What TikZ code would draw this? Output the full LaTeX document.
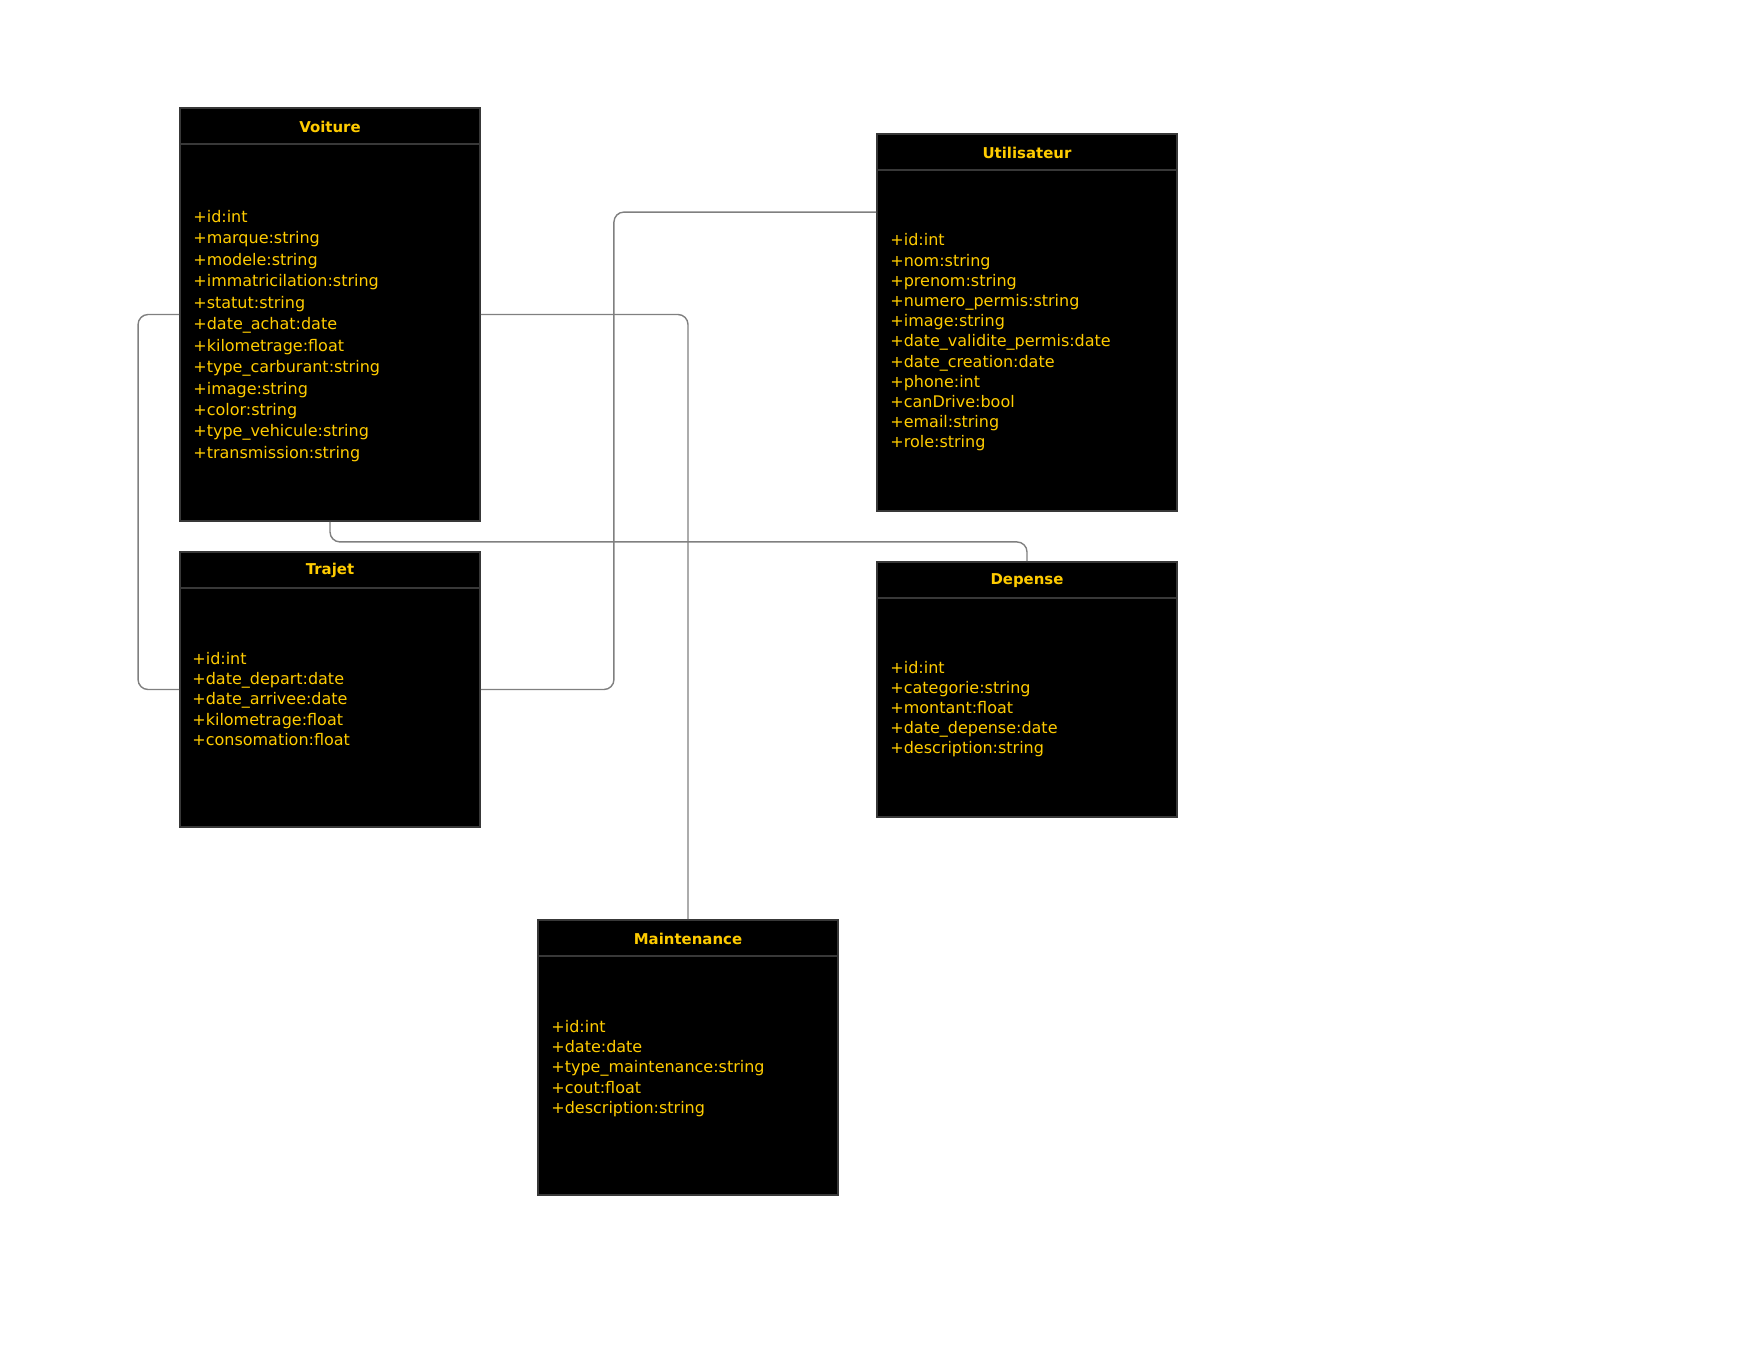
\documentclass[tikz,border=0pt]{standalone}
\usepackage{fontspec}
\setmainfont{DejaVu Sans}
\definecolor{attrgold}{HTML}{FFCC00}
\definecolor{boxline}{HTML}{383838}
\definecolor{wire}{HTML}{808080}
\tikzset{
  classbox/.style={draw=boxline, line width=1.1pt, fill=black, minimum width=6cm, inner sep=0pt},
  classtitle/.style={text=attrgold, font=\fontsize{8.5}{10}\selectfont\bfseries},
  attrs/.style={text=attrgold, anchor=west, align=left, inner sep=0pt, font=\fontsize{9.1}{11.5}\selectfont},
  sepline/.style={draw=boxline, line width=1pt},
  wire/.style={draw=wire, line width=0.8pt, rounded corners=0.2cm}
}
\begin{document}
\begin{tikzpicture}[x=0.02cm, y=-0.02cm]
  \useasboundingbox[fill=white] (0,0) rectangle (1760,1360);
  % class boxes
  \node[classbox, minimum height=8.26cm] (voiture) at (330,314.5) {};
  \node[classbox, minimum height=7.54cm] (utilisateur) at (1027,322.5) {};
  \node[classbox, minimum height=5.5cm] (trajet) at (330,689.5) {};
  \node[classbox, minimum height=5.1cm] (depense) at (1027,689.5) {};
  \node[classbox, minimum height=5.5cm] (maintenance) at (688,1057.5) {};
  % header lines and titles
  \foreach \c/\t in {voiture/Voiture, utilisateur/Utilisateur, trajet/Trajet, depense/Depense, maintenance/Maintenance}{
    \draw[sepline] (\c.north west) ++(0,37) -- ++(300,0);
    \path (\c.north) ++(0,19.5) node[classtitle] (\c-title) {\t};
  }
  % attributes
  \path (voiture.west) ++(14,21.5) node[attrs, font=\fontsize{9.1}{12.2}\selectfont] (voiture-attrs) {+id:int\\+marque:string\\+modele:string\\+immatricilation:string\\+statut:string\\+date\_achat:date\\+kilometrage:float\\+type\_carburant:string\\+image:string\\+color:string\\+type\_vehicule:string\\+transmission:string};
  \path (utilisateur.west) ++(14,20) node[attrs] (utilisateur-attrs) {+id:int\\+nom:string\\+prenom:string\\+numero\_permis:string\\+image:string\\+date\_validite\_permis:date\\+date\_creation:date\\+phone:int\\+canDrive:bool\\+email:string\\+role:string};
  \path (trajet.west) ++(13,9.5) node[attrs] (trajet-attrs) {+id:int\\+date\_depart:date\\+date\_arrivee:date\\+kilometrage:float\\+consomation:float};
  \path (depense.west) ++(14,19.5) node[attrs] (depense-attrs) {+id:int\\+categorie:string\\+montant:float\\+date\_depense:date\\+description:string};
  \path (maintenance.west) ++(14,11) node[attrs] (maintenance-attrs) {+id:int\\+date:date\\+type\_maintenance:string\\+cout:float\\+description:string};
  % connectors
  \path (utilisateur.north west) ++(0,79) coordinate (utilisateur-port);
  \draw[wire] (voiture.west) -- ++(-41,0) |- (trajet.west);
  \draw[wire] (trajet.east) -- ++(133,0) |- (utilisateur-port);
  \draw[wire] (voiture.east) -| (maintenance.north);
  \draw[wire] (voiture.south) -- ++(0,20) -| (depense.north);
\end{tikzpicture}
\end{document}
